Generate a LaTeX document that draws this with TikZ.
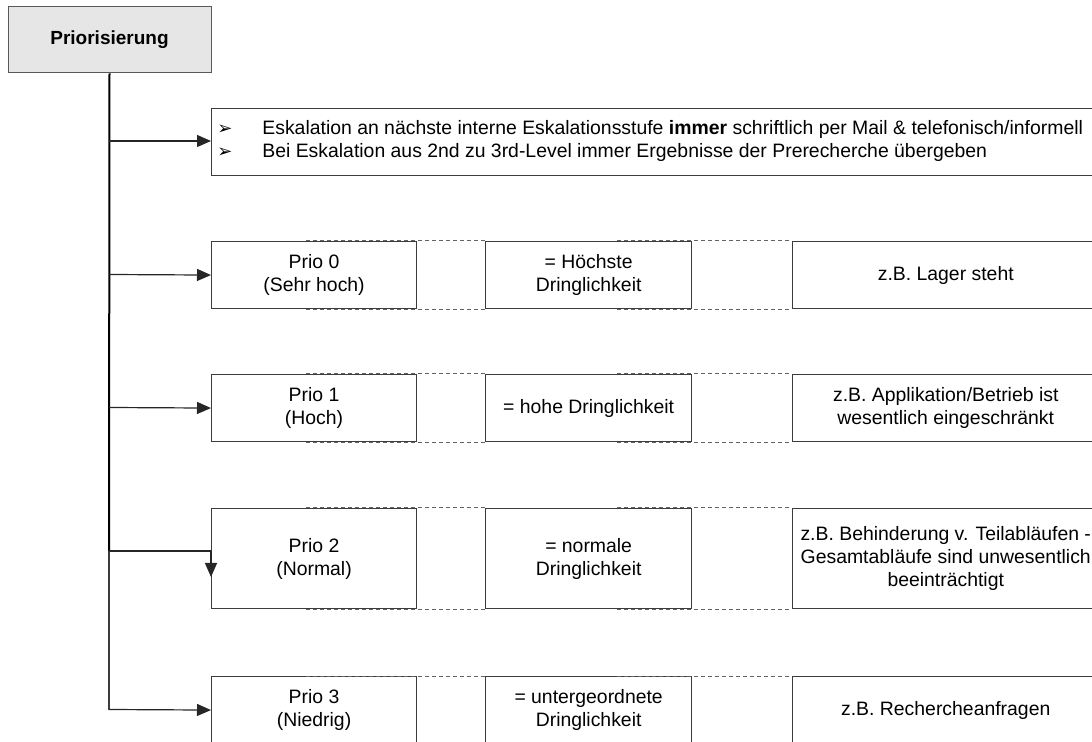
\documentclass[tikz,border=0pt]{standalone}
\usepackage{fontspec}
\setmainfont{Liberation Sans}
\newfontfamily\bulletfont{DejaVu Sans}
\usetikzlibrary{arrows.meta,positioning,calc}
\definecolor{headgray}{RGB}{230,230,230}
\definecolor{lineGray}{RGB}{60,60,60}
\newcommand{\bul}{\makebox[22.5pt][l]{\bulletfont\fontsize{9pt}{9pt}\selectfont ➢}}

\begin{document}
\begin{tikzpicture}[x=0.5pt, y=-0.5pt, >={Triangle[length=7pt,width=6pt]},
    every node/.style={font=\fontsize{9.7pt}{11.5pt}\selectfont},
    box/.style={draw=lineGray, line width=0.55pt, align=center, inner sep=0pt, minimum height=33.5pt},
    colA/.style={box, minimum width=102.5pt},
    colB/.style={box, minimum width=103pt},
    colC/.style={box, minimum width=153pt},
    gap/.style={dashed, dash pattern=on 2pt off 1.5pt, lineGray!80, line width=0.5pt},
    branch/.style={->, black!85, line width=0.6pt}]
  \useasboundingbox (0,0) rectangle (1092,742);
  \clip (0,0) rectangle (1092,742);
  % head box
  \node[box, fill=headgray, draw=black!65, line width=0.5pt, minimum width=101.5pt, minimum height=33pt,
    font=\fontsize{9.5pt}{11.5pt}\selectfont\bfseries] (prio) at (109.5,40) {Priorisierung};
  % escalation notes
  \node[draw=lineGray, line width=0.55pt, anchor=north west, minimum width=442.5pt, minimum height=33.5pt, inner sep=0pt]
    (notes) at (211,108) {};
  \node[anchor=west, align=left, inner sep=0pt] (notestext) at (217,140.5)
    {\bul Eskalation an nächste interne Eskalationsstufe \textbf{immer} schriftlich per Mail \& telefonisch/informell\\
     \bul Bei Eskalation aus 2nd zu 3rd-Level immer Ergebnisse der Prerecherche übergeben};
  % Prio 0
  \node[colA, anchor=north west] (p0a) at (211,241) {Prio 0\\(Sehr hoch)};
  \node[colB, right=34pt of p0a] (p0b) {= Höchste\\Dringlichkeit};
  \node[colC, right=50pt of p0b] (p0c) {z.B. Lager steht};
  % Prio 1
  \node[colA, anchor=north west] (p1a) at (211,374) {Prio 1\\(Hoch)};
  \node[colB, right=34pt of p1a] (p1b) {= hohe Dringlichkeit};
  \node[colC, right=50pt of p1b] (p1c) {z.B. Applikation/Betrieb ist\\wesentlich eingeschränkt};
  % Prio 2
  \node[colA, anchor=north west, minimum height=50pt] (p2a) at (211,508) {Prio 2\\(Normal)};
  \node[colB, right=34pt of p2a, minimum height=50pt] (p2b) {= normale\\Dringlichkeit};
  \node[colC, right=50pt of p2b, minimum height=50pt] (p2c) {z.B. Behinderung v. Teilabläufen -\\Gesamtabläufe sind unwesentlich\\beeinträchtigt};
  % Prio 3
  \node[colA, anchor=north west] (p3a) at (211,676) {Prio 3\\(Niedrig)};
  \node[colB, right=34pt of p3a] (p3b) {= untergeordnete\\Dringlichkeit};
  \node[colC, right=50pt of p3b] (p3c) {z.B. Rechercheanfragen};
  % dashed links between the columns
  \foreach \r in {0,1,2,3} {
    \draw[gap] ([xshift=-55.5pt]p\r a.north east) -- (p\r b.north west);
    \draw[gap] ([xshift=-55.5pt]p\r a.south east) -- (p\r b.south west);
    \draw[gap] ([xshift=-37.5pt]p\r b.north east) -- (p\r c.north west);
    \draw[gap] ([xshift=-37.5pt]p\r b.south east) -- (p\r c.south west);
  }
  % trunk and branches
  \coordinate (tn) at (109,141);
  \coordinate (t0) at (109,274.5);
  \coordinate (t1) at (109,407.5);
  \coordinate (t2) at (109,551);
  \coordinate (t3) at (109,709.5);
  \draw[black, line width=1pt] (prio.south) -- (t2);
  \draw[lineGray, line width=0.8pt] (t2) -- (t3);
  \draw[branch] (tn) -- (notes.west |- tn);
  \draw[branch] (t0) -- (p0a.west);
  \draw[branch] (t1) -- (p1a.west);
  \draw[black!85, line width=0.6pt] (t2) -- (p2a.west |- t2) coordinate (k2);
  \draw[branch] (k2) -- ++(0,26);
  \draw[branch] (t3) -- (p3a.west);
\end{tikzpicture}
\end{document}
